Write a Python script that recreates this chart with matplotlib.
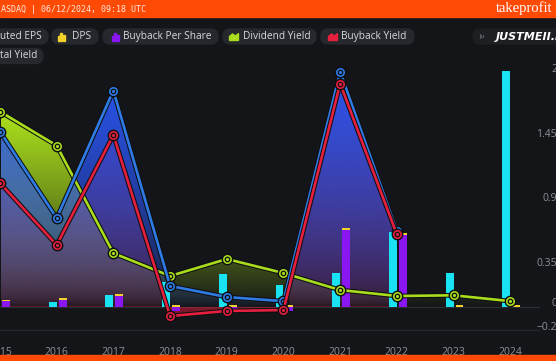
import numpy as np
import matplotlib
matplotlib.use('Agg')
import matplotlib.pyplot as plt
from matplotlib.patches import Rectangle, FancyBboxPatch, Polygon
import matplotlib.patheffects as pe

# данные с графика
years = np.arange(2015, 2025)
eps = [0.04, 0.045, 0.10, 0.21, 0.28, 0.19, 0.29, 0.64, 0.29, 2.02]
buyback_ps = [0.05, 0.06, 0.094, -0.03, -0.02, -0.03, 0.66, 0.615, 0.0, 0.0]
dps = [0.013, 0.017, 0.017, 0.02, 0.015, 0.015, 0.017, 0.02, 0.017, 0.017]
div_yield = [1.67, 1.38, 0.46, 0.265, 0.41, 0.29, 0.145, 0.094, 0.10, 0.05]
total_years = np.arange(2015, 2023)
total_yield = [1.50, 0.76, 1.85, 0.18, 0.085, 0.05, 2.01, 0.65]
buyback_yield = [1.06, 0.53, 1.47, -0.077, -0.034, -0.026, 1.91, 0.62]
y_ticks = [2, 1.45, 0.9, 0.35, 0, -0.2]
y_tick_labels = ['2', '1.45', '0.9', '0.35', '0', '\u22120.2']

W, H = 556, 361
BG = '#131518'
ORANGE = '#ff4a06'
CYAN = '#19e3f2'
PURPLE = '#8a16f2'
YELLOW = '#f2d12a'
GREEN = '#a8dc1c'
BLUE = '#2f7be6'
RED = '#e61f3f'
TXT = '#d8dadd'
PILL = '#25282c'

def fx(px):
    return px / W

def fy(py):
    return 1 - py / H

fig = plt.figure(figsize=(W / 100, H / 100), dpi=100, facecolor=BG)

# оранжевые полосы сверху и снизу
fig.patches.append(Rectangle((0, fy(17)), 1, 17 / H, transform=fig.transFigure, color=ORANGE, zorder=0))
fig.patches.append(Rectangle((0, 0), 1, 6 / H, transform=fig.transFigure, color=ORANGE, zorder=0))
fig.text(fx(1), fy(9), 'ASDAQ | 06/12/2024, 09:18 UTC', family='DejaVu Sans Mono', fontsize=6,
         color='#ffe9de', va='center', ha='left')
fig.text(fx(496), fy(8.5), 'takeprofit', family='Liberation Serif', fontsize=10.5,
         color='white', va='center', ha='left')

# легенда в виде "таблеток"
def pill(x0, x1, yc, color=PILL):
    fig.patches.append(FancyBboxPatch((fx(x0), fy(yc + 7.5)), (x1 - x0) / W, 15 / H,
                                      boxstyle='round,pad=0,rounding_size=0.013',
                                      transform=fig.transFigure, color=color, zorder=1,
                                      mutation_aspect=W / H))

def bars_icon(x, yc, color):
    for dx, h in [(0, 5), (2.5, 8), (5, 6)]:
        fig.patches.append(Rectangle((fx(x - 3.5 + dx), fy(yc + 4)), 2 / W, h / H,
                                     transform=fig.transFigure, color=color, zorder=2))

def area_icon(x, yc, color):
    pts = [(x - 4.5, yc + 4), (x - 4.5, yc), (x - 1.5, yc - 2.5), (x + 1.5, yc - 0.5),
           (x + 4.5, yc - 3), (x + 4.5, yc + 4)]
    fig.patches.append(Polygon([(fx(a), fy(b)) for a, b in pts], closed=True,
                               transform=fig.transFigure, color=color, zorder=2))

row1, row2 = 36.5, 56
lfs = 7.3
pill(-10, 48, row1)
fig.text(fx(0), fy(row1), 'uted EPS', fontsize=lfs, color=TXT, va='center', family='Open Sans')
pill(52, 98, row1)
bars_icon(61, row1, YELLOW)
fig.text(fx(72), fy(row1), 'DPS', fontsize=lfs, color=TXT, va='center', family='Open Sans')
pill(103, 218, row1)
bars_icon(115, row1, PURPLE)
fig.text(fx(123), fy(row1), 'Buyback Per Share', fontsize=lfs, color=TXT, va='center', family='Open Sans')
pill(223, 316, row1)
area_icon(234, row1, GREEN)
fig.text(fx(243), fy(row1), 'Dividend Yield', fontsize=lfs, color=TXT, va='center', family='Open Sans')
pill(321, 414, row1)
area_icon(333, row1, RED)
fig.text(fx(341), fy(row1), 'Buyback Yield', fontsize=lfs, color=TXT, va='center', family='Open Sans')
pill(-10, 43, row2)
fig.text(fx(0), fy(row2), 'tal Yield', fontsize=lfs, color=TXT, va='center', family='Open Sans')
pill(473, 570, row1, '#1d1f23')
fig.text(fx(482), fy(row1), 'Ju', fontsize=4, color='#8a8d92', va='center', ha='center')
fig.text(fx(496), fy(row1), 'JUSTMEII.HO', fontsize=8, color='white', va='center',
         style='italic', weight='bold', family='DejaVu Sans')

# основная область графика
zero_px, scale = 307, 117.0
ax_top, ax_bot, ax_right = 60, 340, 540
ax = fig.add_axes([0, fy(ax_bot), fx(ax_right), (ax_bot - ax_top) / H])
ax.set_facecolor(BG)
px_per_year = 56.8
x_left = 2015 + 1 / px_per_year
x_right = 2015 + (ax_right + 1) / px_per_year
y_bot = (zero_px - ax_bot) / scale
y_top = (zero_px - ax_top) / scale

def grad_fill(x, y, color, amax, power, ref, neg_alpha, z):
    x = np.asarray(x, dtype=float)
    y = np.asarray(y, dtype=float)
    pts = list(zip(x, y)) + [(x[-1], 0), (x[0], 0)]
    poly = Polygon(pts, closed=True, facecolor='none', edgecolor='none')
    ax.add_patch(poly)
    ys = np.linspace(y_bot, y_top, 300)
    rgb = matplotlib.colors.to_rgb(color)
    img = np.zeros((300, 2, 4))
    img[..., :3] = rgb
    a = np.where(ys >= 0, amax * np.clip(ys / ref, 0, 1) ** power, neg_alpha)
    img[..., 3] = a[:, None]
    im = ax.imshow(img, extent=[x_left, x_right, y_bot, y_top], origin='lower',
                   aspect='auto', zorder=z, interpolation='bilinear')
    im.set_clip_path(poly)

grad_fill(years, div_yield, GREEN, 1.0, 0.85, 1.6, 0.0, 1)
grad_fill(total_years, buyback_yield, RED, 0.45, 0.3, 2.0, 0.5, 2)
grad_fill(total_years, total_yield, '#2a55f0', 1.0, 0.6, 2.0, 0.0, 3)

ax.axhline(0, color='#2a2d31', lw=1, zorder=0.5)
ax.axhline(-0.2, color='#24272b', lw=1, zorder=0.5)

# столбцы
bw = 0.14
ax.bar(years - 0.07, eps, width=bw, color=CYAN, zorder=4)
ax.bar(years + 0.105, buyback_ps, width=bw, color=PURPLE, zorder=4)
dps_bottom = [b if b > 0 else 0 for b in buyback_ps]
ax.bar(years + 0.105, dps, width=bw, bottom=dps_bottom, color=YELLOW, zorder=4)

# линии
def line(x, y, color, z):
    ax.plot(x, y, color=color, lw=1.9, zorder=z,
            path_effects=[pe.Stroke(linewidth=3.4, foreground='#0e0f11'), pe.Normal()])
    ax.plot(x, y, 'o', ms=7.5, mfc=color, mec='#0e0f11', mew=1, zorder=z + 0.1)
    ax.plot(x, y, 'o', ms=3.2, mfc=color, mec='#0e0f11', mew=0.9, zorder=z + 0.2)

line(years, div_yield, GREEN, 5)
line(total_years, total_yield, BLUE, 6)
line(total_years, buyback_yield, RED, 7)

ax.set_xlim(x_left, x_right)
ax.set_ylim(y_bot, y_top)
for s in ax.spines.values():
    s.set_visible(False)
ax.set_yticks([])
ax.set_xticks(years)
ax.set_xticklabels([str(y) for y in years], fontsize=7.5, color='#8e9196', family='Open Sans')
ax.tick_params(axis='x', length=0, pad=5)

for v, lab in zip(y_ticks, y_tick_labels):
    ax.text((557) / ax_right, v + 3 / scale, lab, transform=ax.get_yaxis_transform(),
            ha='right', va='center', fontsize=7.5, color='#8e9196', family='Open Sans',
            clip_on=False)

fig.savefig('out.png', dpi=100, facecolor=BG)
